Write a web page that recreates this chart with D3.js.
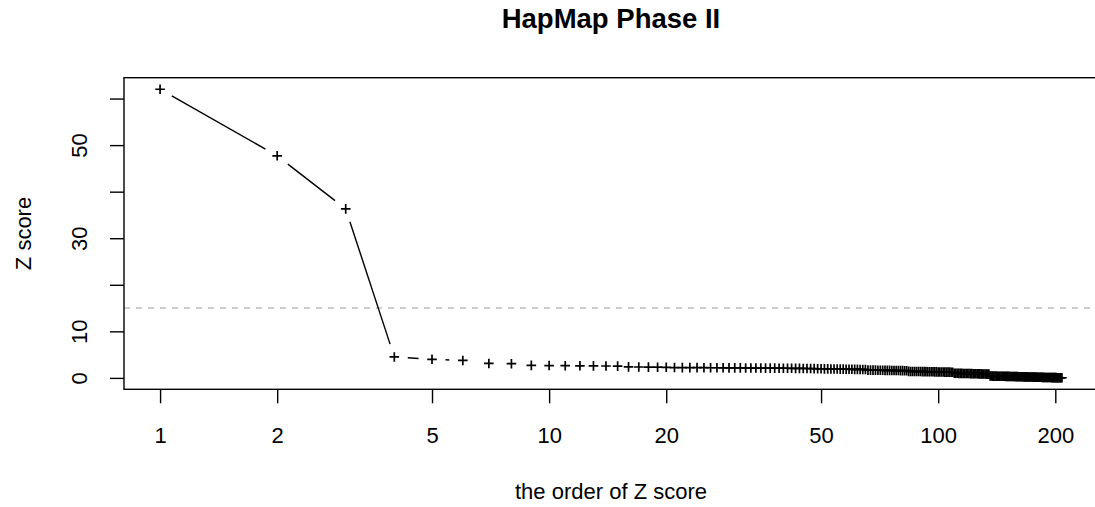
<!DOCTYPE html>
<html>
<head>
<meta charset="utf-8">
<script src="https://cdn.jsdelivr.net/npm/d3@7"></script>
<style>
  body { margin: 0; background: #fff; }
  svg { display: block; }
  text { font-family: "Liberation Sans", Arial, Helvetica, sans-serif; fill: #000; }
</style>
</head>
<body>
<svg id="chart" width="1095" height="507"></svg>
<script>
// Z scores, sorted from largest to smallest
const zScores = [
  62.0, 47.7, 36.3, 4.5, 4.0, 3.75, 3.1, 3.05, 2.7, 2.65,
  2.62, 2.6, 2.58, 2.56, 2.52, 2.36, 2.34, 2.31, 2.3, 2.28,
  2.22, 2.21, 2.2, 2.2, 2.19, 2.18, 2.18, 2.17, 2.16, 2.15,
  2.15, 2.14, 2.13, 2.12, 2.12, 2.11, 2.1, 2.09, 2.08, 2.08,
  2.07, 2.06, 2.05, 2.04, 2.03, 2.02, 2.01, 2.0,
  1.96, 1.95, 1.94, 1.93, 1.92, 1.91, 1.9, 1.89, 1.88, 1.87,
  1.86, 1.85, 1.84, 1.83, 1.82, 1.81, 1.8,
  1.68, 1.67, 1.66, 1.66, 1.65, 1.64, 1.63, 1.62, 1.62, 1.61,
  1.6, 1.59, 1.58, 1.58, 1.57, 1.56, 1.55, 1.55,
  1.4, 1.39, 1.39, 1.38, 1.37, 1.37, 1.36, 1.35, 1.34, 1.34,
  1.33, 1.32, 1.31, 1.31, 1.3, 1.29, 1.28, 1.28, 1.27, 1.26,
  1.25, 1.25, 1.24, 1.23, 1.22, 1.22,
  1.0, 0.99, 0.99, 0.98, 0.97, 0.97, 0.96, 0.95, 0.94, 0.94,
  0.93, 0.92, 0.91, 0.9, 0.9, 0.89, 0.88, 0.87, 0.86, 0.86,
  0.85, 0.84, 0.83, 0.82, 0.81, 0.8,
  0.4, 0.4, 0.39, 0.39, 0.38, 0.38, 0.37, 0.37, 0.36, 0.36,
  0.35, 0.35, 0.34, 0.33, 0.33, 0.32, 0.32, 0.31, 0.31, 0.3,
  0.29, 0.29, 0.28, 0.28, 0.27, 0.26, 0.26, 0.25, 0.25, 0.24,
  0.23, 0.23, 0.22, 0.22, 0.21, 0.2, 0.2, 0.19, 0.19, 0.18,
  0.17, 0.17, 0.16, 0.16, 0.15, 0.14, 0.14, 0.13, 0.13, 0.12,
  0.11, 0.11, 0.1, 0.1, 0.09, 0.09, 0.08, 0.08, 0.07, 0.07,
  0.06, 0.06, 0.06, 0.05, 0.05, 0.05, 0.04, 0.04, 0.04, 0.03,
  0.03, 0.03, 0.03
];
const xTicks = [1, 2, 5, 10, 20, 50, 100, 200];
const yTicks = [0, 10, 20, 30, 40, 50, 60];
const yTickLabels = [0, 10, 30, 50];
const threshold = 15;

const titleText = "HapMap Phase II";
const xLabel = "the order of Z score";
const yLabel = "Z score";

// ---- layout ----
const plot = { left: 124, right: 1098, top: 77.7, bottom: 389.3 };
const pad = 0.04;          // axis range extension on each side
const markerArm = 4.8;     // half-size of the "+" symbol
const lineGap = 13.5;      // gap left between a point and its connecting line
const ink = "#000";
const lw = 1.4;
const markerLw = 1.7;

const n = zScores.length;
const order = d3.range(1, n + 1);
const data = order.map((r, i) => ({ rank: r, z: zScores[i] }));

const logSpan = Math.log10(n);
const x = d3.scaleLog()
  .domain([Math.pow(10, -pad * logSpan), Math.pow(10, logSpan * (1 + pad))])
  .range([plot.left, plot.right]);

const [yMin, yMax] = d3.extent(zScores);
const ySpan = yMax - yMin;
const y = d3.scaleLinear()
  .domain([yMin - pad * ySpan, yMax + pad * ySpan])
  .range([plot.bottom, plot.top]);

const svg = d3.select("#chart");
svg.append("rect").attr("width", 1095).attr("height", 507).attr("fill", "#fff");

// threshold reference line
svg.append("line")
  .attr("x1", plot.left).attr("x2", plot.right)
  .attr("y1", y(threshold)).attr("y2", y(threshold))
  .attr("stroke", "#BEBEBE").attr("stroke-width", 1.4)
  .attr("stroke-dasharray", "6,6");

// connecting lines, shortened near each point
const segs = [];
for (let i = 0; i < n - 1; i++) {
  const x0 = x(data[i].rank), y0 = y(data[i].z);
  const x1 = x(data[i + 1].rank), y1 = y(data[i + 1].z);
  const f = lineGap / Math.hypot(x1 - x0, y1 - y0);
  if (f < 0.5) {
    segs.push({
      x1: x0 + f * (x1 - x0), y1: y0 + f * (y1 - y0),
      x2: x1 + f * (x0 - x1), y2: y1 + f * (y0 - y1)
    });
  }
}
svg.append("g").selectAll("line").data(segs).join("line")
  .attr("x1", d => d.x1).attr("y1", d => d.y1)
  .attr("x2", d => d.x2).attr("y2", d => d.y2)
  .attr("stroke", ink).attr("stroke-width", lw);

// "+" markers
svg.append("g").selectAll("path").data(data).join("path")
  .attr("d", d => {
    const cx = x(d.rank), cy = y(d.z);
    return `M${cx - markerArm},${cy}H${cx + markerArm}M${cx},${cy - markerArm}V${cy + markerArm}`;
  })
  .attr("stroke", ink).attr("stroke-width", markerLw).attr("fill", "none");

// frame
svg.append("rect")
  .attr("x", plot.left).attr("y", plot.top)
  .attr("width", plot.right - plot.left).attr("height", plot.bottom - plot.top)
  .attr("fill", "none").attr("stroke", ink).attr("stroke-width", lw);

// x axis
const gx = svg.append("g")
  .attr("transform", `translate(0,${plot.bottom})`)
  .call(d3.axisBottom(x).tickValues(xTicks).tickFormat(d3.format("d")).tickSize(14).tickPadding(0));
gx.select(".domain").remove();
gx.selectAll(".tick line").attr("stroke", ink).attr("stroke-width", lw);
gx.selectAll(".tick text")
  .attr("y", 443 - plot.bottom).attr("dy", null)
  .style("font-size", "22px").attr("fill", ink);

// y axis
const gy = svg.append("g")
  .attr("transform", `translate(${plot.left},0)`)
  .call(d3.axisLeft(y).tickValues(yTicks)
    .tickFormat(d => yTickLabels.includes(d) ? String(d) : "")
    .tickSize(14).tickPadding(0));
gy.select(".domain").remove();
gy.selectAll(".tick line").attr("stroke", ink).attr("stroke-width", lw);
gy.selectAll(".tick text")
  .attr("x", null).attr("dy", null)
  .attr("text-anchor", "middle")
  .attr("transform", "translate(-37,0) rotate(-90)")
  .style("font-size", "22px").attr("fill", ink);

// title and axis labels
const midX = (plot.left + plot.right) / 2;
svg.append("text")
  .attr("x", midX).attr("y", 28)
  .attr("text-anchor", "middle")
  .style("font-size", "27.5px").style("font-weight", "bold")
  .text(titleText);

svg.append("text")
  .attr("x", midX).attr("y", 499)
  .attr("text-anchor", "middle")
  .style("font-size", "22px")
  .text(xLabel);

svg.append("text")
  .attr("transform", `translate(31,${(plot.top + plot.bottom) / 2}) rotate(-90)`)
  .attr("text-anchor", "middle")
  .style("font-size", "22px")
  .text(yLabel);
</script>
</body>
</html>
